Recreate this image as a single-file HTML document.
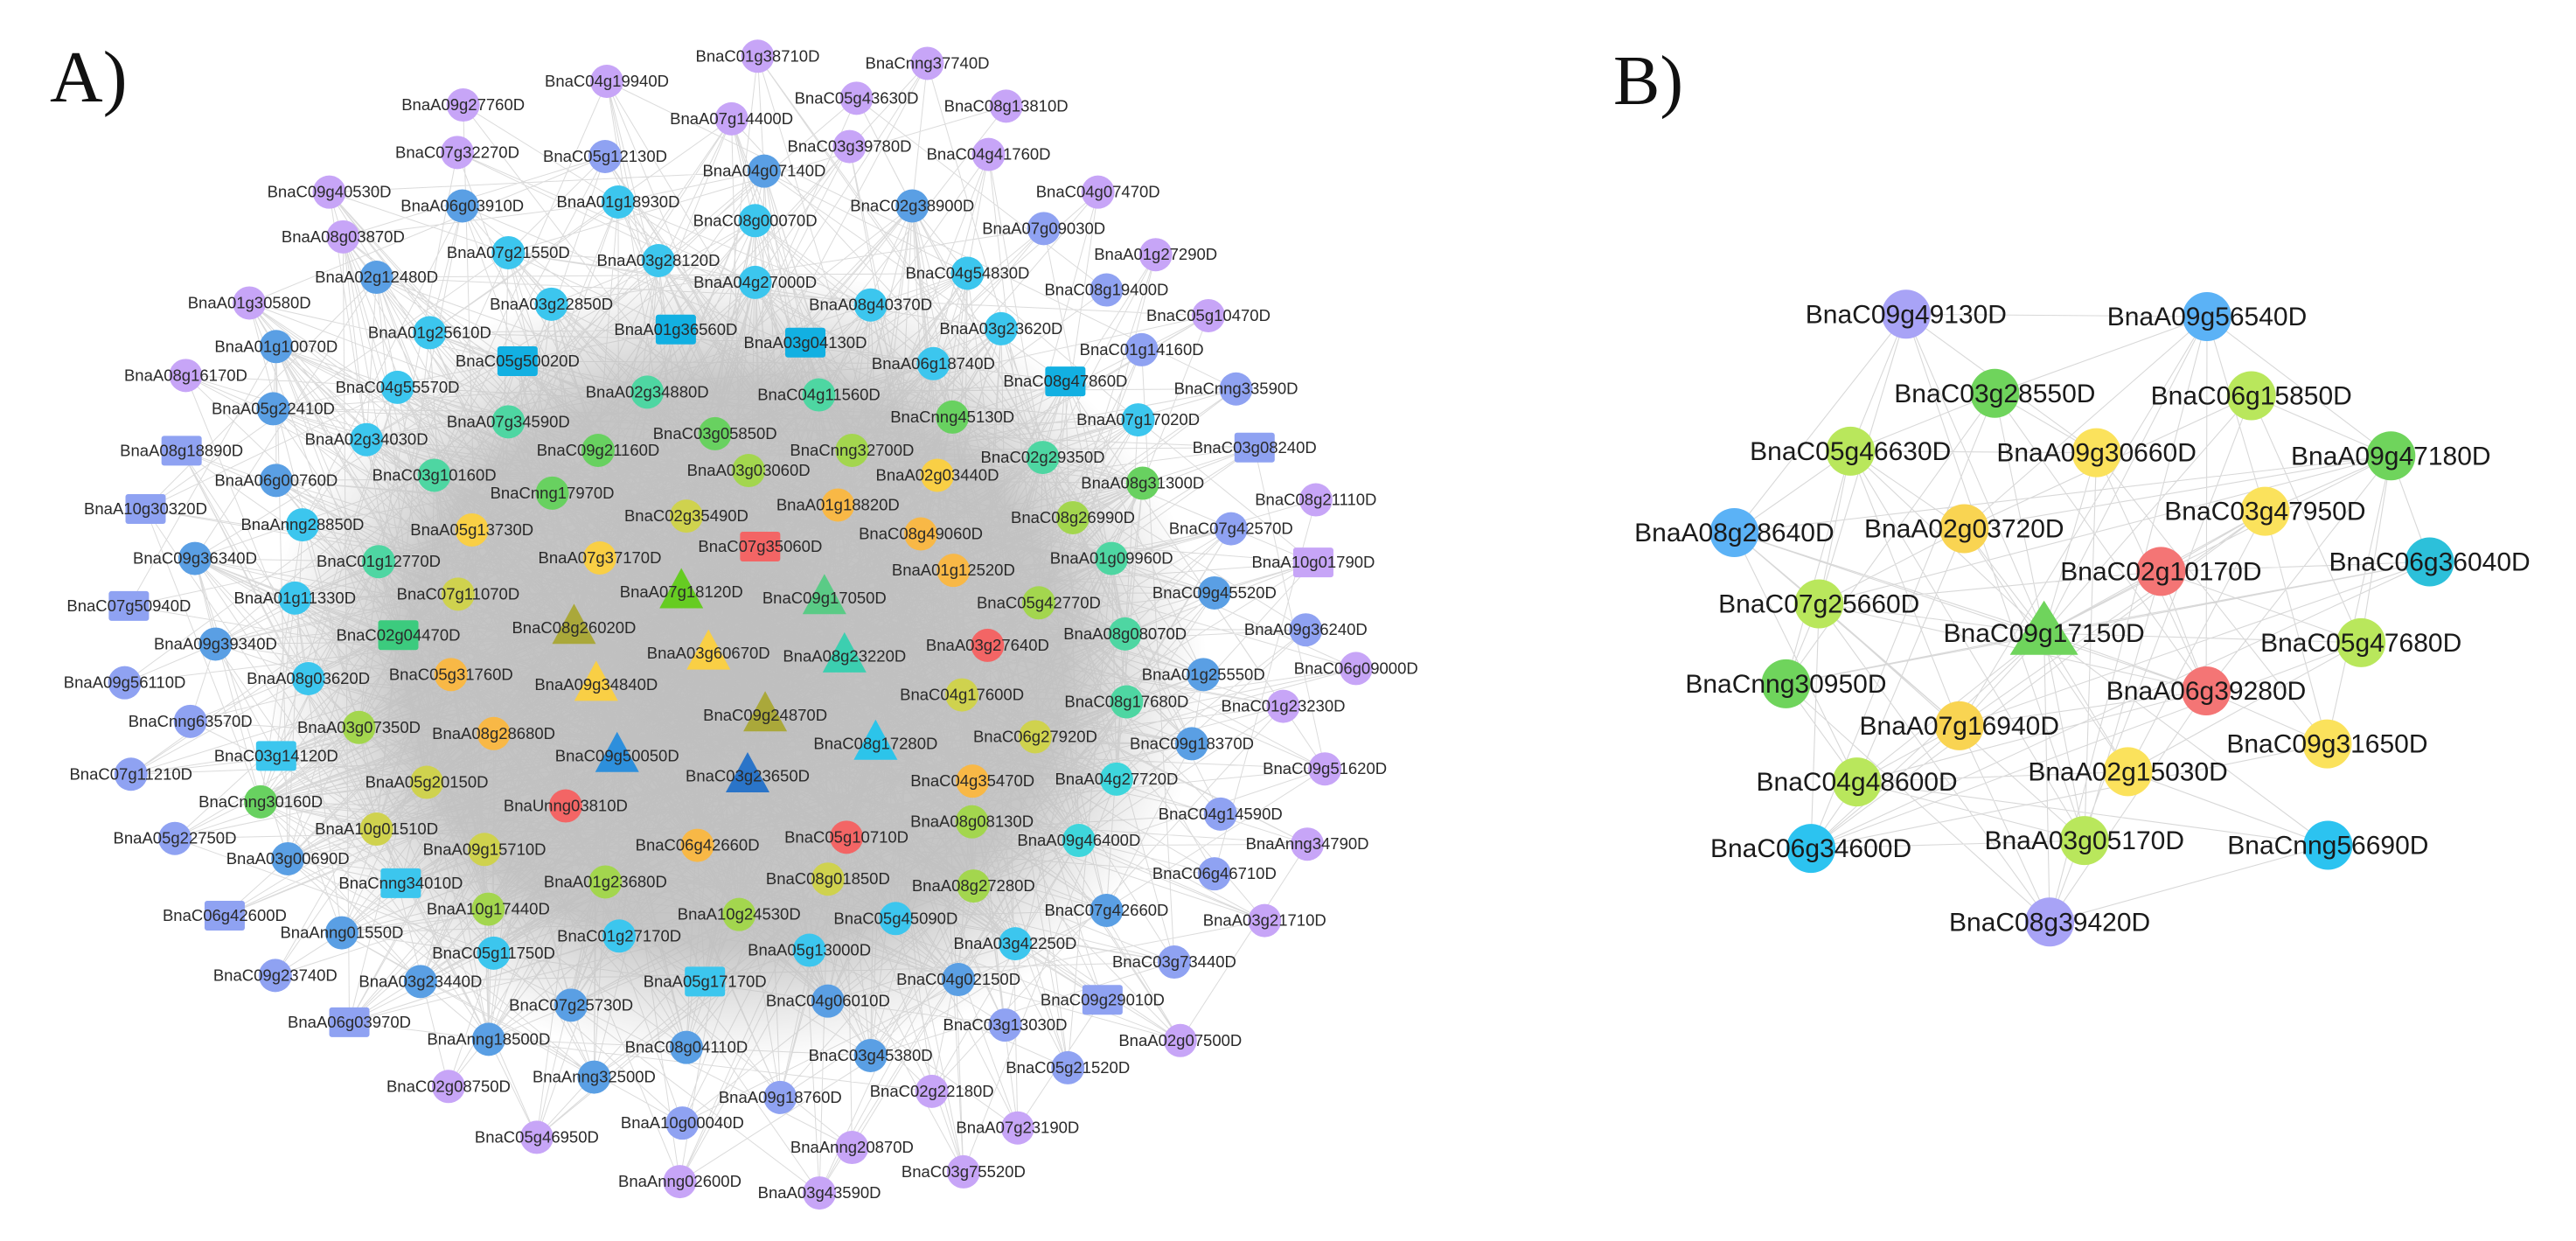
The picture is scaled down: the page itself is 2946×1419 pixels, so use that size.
<!DOCTYPE html>
<html><head><meta charset="utf-8">
<style>
html,body{margin:0;padding:0;background:#fff;}
svg{display:block;}
text{font-family:"Liberation Sans",Arial,sans-serif;}
</style></head>
<body>
<svg id="s" xmlns="http://www.w3.org/2000/svg" width="2946" height="1419" viewBox="0 0 2946 1419">
<defs>
<radialGradient id="core" cx="50%" cy="50%" r="50%">
<stop offset="0" stop-color="#c0c0c0" stop-opacity="1"/>
<stop offset="0.7" stop-color="#c4c4c4" stop-opacity="0.95"/>
<stop offset="1" stop-color="#d0d0d0" stop-opacity="0"/>
</radialGradient>
</defs>
<rect width="2946" height="1419" fill="#fff"/>
<ellipse cx="840" cy="760" rx="540" ry="460" fill="url(#core)"/>
<g id="edgesA"></g>
<g id="edgesB"></g>
<g id="nodes"></g>
<text x="57" y="116" font-size="84" style="font-family:'Liberation Serif',serif" fill="#111">A)</text>
<text x="1845" y="119" font-size="80" style="font-family:'Liberation Serif',serif" fill="#111">B)</text>
</svg>
<script>
var NS="http://www.w3.org/2000/svg";
var col={P:'#c7a5f7',W:'#8fa2f2',B:'#5a9fe4',C:'#3cc6ee',Cd:'#12b0e2',T:'#4ed6a2',TG:'#3ccb7e',G:'#68d160',GB:'#66cc22',GT:'#5acb86',YG:'#a3d64e',OY:'#cfd24e',Y:'#f9cf45',O:'#f8b846',R:'#f36565',Ol:'#aaa83a',Bd:'#2d8fdc',Bd2:'#2a74c8',Ct:'#2cc4ea',Ct2:'#3ed6dc',TT:'#3ccfb0'};
var A=[];
function add(arr,fx,fy){arr.forEach(function(n){A.push({l:n[0],x:fx(n[1]),y:fy(n[2]),c:n[3],s:n[4]||'c'});});}
add([['BnaA09g27760D',1107,265,'P'],['BnaC07g32270D',1093,385,'P'],['BnaC09g40530D',787,485,'P'],['BnaA06g03910D',1105,520,'B'],['BnaA08g03870D',820,598,'P'],['BnaA07g21550D',1215,638,'C'],['BnaA02g12480D',900,700,'B'],['BnaA01g30580D',596,765,'P'],['BnaA03g22850D',1318,768,'C'],['BnaA01g25610D',1027,840,'C'],['BnaA01g10070D',660,875,'B'],['BnaC05g50020D',1237,912,'Cd','s'],['BnaA08g16170D',444,948,'P'],['BnaC04g55570D',950,978,'C'],['BnaA05g22410D',653,1032,'B'],['BnaA07g34590D',1215,1065,'T'],['BnaA02g34030D',876,1110,'C'],['BnaA08g18890D',434,1138,'W','s'],['BnaA06g00760D',660,1213,'B'],['BnaC03g10160D',1038,1200,'T'],['BnaCnng17970D',1320,1245,'G'],['BnaA10g30320D',348,1285,'W','s'],['BnaAnng28850D',723,1325,'C'],['BnaA05g13730D',1128,1338,'Y'],['BnaC09g36340D',466,1410,'B'],['BnaC01g12770D',905,1418,'T'],['BnaC07g11070D',1095,1500,'OY'],['BnaA01g11330D',705,1510,'C'],['BnaC07g50940D',308,1530,'W','s']],function(x){return x/2.09},function(y){return y/2.208});
add([['BnaC04g19940D',694,93,'P'],['BnaC05g12130D',692,179,'W'],['BnaA01g18930D',707,231,'C'],['BnaA03g28120D',753,298,'C'],['BnaC09g21160D',684,515,'G'],['BnaA07g37170D',686,638,'Y']],function(x){return x},function(y){return y});
add([['BnaC01g38710D',290,142,'P'],['BnaCnng37740D',628,160,'P'],['BnaC05g43630D',487,248,'P'],['BnaC08g13810D',785,268,'P'],['BnaA07g14400D',238,300,'P'],['BnaC03g39780D',473,370,'P'],['BnaC04g41760D',750,390,'P'],['BnaA04g07140D',303,432,'B'],['BnaC04g07470D',968,485,'P'],['BnaC02g38900D',598,520,'B'],['BnaC08g00070D',285,557,'C'],['BnaA07g09030D',860,577,'W'],['BnaA01g27290D',1083,643,'P'],['BnaC04g54830D',708,690,'C'],['BnaA04g27000D',285,713,'C'],['BnaC08g19400D',985,732,'W'],['BnaA08g40370D',515,770,'C'],['BnaC05g10470D',1188,797,'P'],['BnaA01g36560D',127,832,'Cd','s'],['BnaA03g23620D',775,830,'C'],['BnaA03g04130D',385,865,'Cd','s'],['BnaC01g14160D',1055,883,'W'],['BnaA06g18740D',640,918,'C'],['BnaA02g34880D',70,990,'T'],['BnaC04g11560D',412,997,'T'],['BnaC08g47860D',903,963,'Cd','s'],['BnaCnng33590D',1243,982,'W'],['BnaCnng45130D',678,1053,'G'],['BnaA07g17020D',1048,1060,'C'],['BnaC03g05850D',205,1095,'G'],['BnaCnng32700D',478,1137,'YG'],['BnaC03g08240D',1280,1130,'W','s'],['BnaC02g29350D',858,1155,'T'],['BnaA03g03060D',272,1188,'YG'],['BnaA02g03440D',648,1200,'Y'],['BnaA08g31300D',1057,1220,'G'],['BnaC02g35490D',148,1303,'OY'],['BnaA01g18820D',450,1275,'O'],['BnaC08g21110D',1402,1262,'P'],['BnaC08g26990D',918,1307,'YG'],['BnaC07g42570D',1233,1335,'W'],['BnaC08g49060D',615,1348,'O'],['BnaC07g35060D',295,1380,'R','s'],['BnaA01g09960D',995,1410,'T'],['BnaA10g01790D',1397,1420,'P','s'],['BnaA01g12520D',680,1440,'O'],['BnaA07g18120D',138,1495,'GB','t'],['BnaC09g17050D',423,1510,'GT','t'],['BnaC05g42770D',850,1522,'YG'],['BnaC09g45520D',1200,1497,'B']],function(x){return 700+x/1.742},function(y){return y/2.208});
add([['BnaC02g04470D',952,78,'TG','s'],['BnaA09g39340D',515,100,'B'],['BnaA09g56110D',298,195,'W'],['BnaA08g03620D',737,185,'C'],['BnaC05g31760D',1078,175,'O'],['BnaA09g34840D',1425,200,'Y','t'],['BnaCnng63570D',455,290,'W'],['BnaA03g07350D',858,305,'YG'],['BnaA08g28680D',1180,320,'O'],['BnaC03g14120D',660,375,'C','s'],['BnaC09g50050D',1475,375,'Bd','t'],['BnaC07g11210D',313,420,'W'],['BnaA05g20150D',1020,440,'OY'],['BnaCnng30160D',623,488,'G'],['BnaUnng03810D',1352,498,'R'],['BnaA05g22750D',418,578,'W'],['BnaA10g01510D',900,555,'OY'],['BnaA03g00690D',688,628,'B'],['BnaA09g15710D',1158,605,'OY'],['BnaCnng34010D',958,688,'C','s'],['BnaA01g23680D',1447,685,'YG'],['BnaC06g42600D',537,768,'W','s'],['BnaA10g17440D',1167,752,'YG'],['BnaAnng01550D',817,810,'B'],['BnaC01g27170D',1480,818,'C'],['BnaC05g11750D',1180,860,'C'],['BnaC09g23740D',658,915,'W'],['BnaA03g23440D',1005,930,'B'],['BnaC07g25730D',1365,988,'B'],['BnaA06g03970D',835,1030,'W','s'],['BnaAnng18500D',1168,1072,'B'],['BnaC02g08750D',1072,1188,'P'],['BnaAnng32500D',1420,1165,'B'],['BnaC05g46950D',1283,1313,'P'],['BnaC08g26020D',1372,60,'Ol','t']],function(x){return x/2.09},function(y){return 690+y/2.151});
add([['BnaA03g60670D',192,123,'Y','t'],['BnaA08g23220D',463,130,'TT','t'],['BnaA03g27640D',748,103,'R'],['BnaA08g08070D',1022,75,'T'],['BnaA09g36240D',1382,65,'W'],['BnaA01g25550D',1178,175,'B'],['BnaC06g09000D',1482,160,'P'],['BnaC04g17600D',697,225,'OY'],['BnaC08g17680D',1025,242,'T'],['BnaC01g23230D',1337,253,'P'],['BnaC09g24870D',305,275,'Ol','t'],['BnaC08g17280D',525,345,'Ct','t'],['BnaC06g27920D',843,328,'OY'],['BnaC09g18370D',1155,345,'B'],['BnaC03g23650D',270,425,'Bd2','t'],['BnaC04g35470D',718,437,'O'],['BnaA04g27720D',1005,432,'Ct2'],['BnaC09g51620D',1420,407,'P'],['BnaC04g14590D',1212,518,'W'],['BnaA08g08130D',717,537,'YG'],['BnaC06g42660D',170,595,'O'],['BnaC05g10710D',467,575,'R'],['BnaA09g46400D',930,583,'Ct2'],['BnaAnng34790D',1385,592,'P'],['BnaC06g46710D',1200,665,'W'],['BnaC08g01850D',430,678,'OY'],['BnaA08g27280D',720,695,'YG'],['BnaA10g24530D',253,765,'YG'],['BnaC05g45090D',565,775,'C'],['BnaC07g42660D',985,755,'B'],['BnaA03g21710D',1300,780,'P'],['BnaA05g13000D',393,853,'C'],['BnaA03g42250D',803,837,'C'],['BnaC03g73440D',1120,882,'W'],['BnaA05g17170D',185,930,'C','s'],['BnaC04g02150D',690,925,'B'],['BnaC04g06010D',430,978,'B'],['BnaC09g29010D',977,975,'W','s'],['BnaC03g13030D',783,1037,'W'],['BnaA02g07500D',1132,1075,'P'],['BnaC08g04110D',148,1092,'B'],['BnaC03g45380D',515,1112,'B'],['BnaC05g21520D',908,1142,'W'],['BnaA09g18760D',335,1215,'W'],['BnaC02g22180D',637,1200,'P'],['BnaA10g00040D',140,1278,'W'],['BnaAnng20870D',478,1338,'P'],['BnaA07g23190D',808,1290,'P'],['BnaAnng02600D',135,1422,'P'],['BnaA03g43590D',413,1450,'P'],['BnaC03g75520D',700,1398,'P']],function(x){return 700+x/1.742},function(y){return 690+y/2.151});

var Bc={L:'#a8a3f6',Bl:'#5bb2f6',G:'#6fd45c',YG:'#b9e75c',Y:'#fbe25c',YO:'#f9d452',R:'#f47575',C:'#2cc3f0',CT:'#2cc0da'};
var Bn=[['BnaC09g49130D',737,397,'L'],['BnaA09g56540D',1110,400,'Bl'],['BnaC03g28550D',847,497,'G'],['BnaC06g15850D',1165,500,'YG'],['BnaC05g46630D',668,570,'YG'],['BnaA09g30660D',973,572,'Y'],['BnaA09g47180D',1338,576,'G'],['BnaC03g47950D',1182,646,'Y'],['BnaA08g28640D',524,673,'Bl'],['BnaA02g03720D',809,668,'YO'],['BnaC02g10170D',1053,722,'R'],['BnaC06g36040D',1386,710,'CT'],['BnaC07g25660D',629,763,'YG'],['BnaC09g17150D',908,800,'G','t'],['BnaC05g47680D',1301,812,'YG'],['BnaCnng30950D',588,864,'G'],['BnaA06g39280D',1109,873,'R'],['BnaA07g16940D',803,917,'YO'],['BnaC09g31650D',1259,940,'Y'],['BnaA02g15030D',1012,975,'Y'],['BnaC04g48600D',676,988,'YG'],['BnaC06g34600D',619,1072,'C'],['BnaA03g05170D',958,1062,'YG'],['BnaCnng56690D',1260,1068,'C'],['BnaC08g39420D',915,1165,'L']];
var B=Bn.map(function(n){return {l:n[0],x:1500+n[1]/1.084,y:n[2]/1.105,c:Bc[n[3]],s:n[4]||'c'};});

var seed=12345;function rnd(){seed=(seed*1103515245+12345)%2147483648;return seed/2147483648;}
function w(c){if(c=='P'||c=='W')return 0.12;if(c=='B'||c=='C'||c=='Cd')return 0.3;return 0.6;}
var eA=[];
for(var i=0;i<A.length;i++)for(var j=i+1;j<A.length;j++){
 var a=A[i],b=A[j];var d=Math.hypot(a.x-b.x,a.y-b.y);
 var p=w(a.c)*w(b.c)*(d<300?1.6:d<600?0.9:0.5);
 if(a.s=='t'||b.s=='t')p*=2;
 if(rnd()<p)eA.push('M'+a.x.toFixed(1)+' '+a.y.toFixed(1)+'L'+b.x.toFixed(1)+' '+b.y.toFixed(1));
}
var pa=document.createElementNS(NS,'path');pa.setAttribute('d',eA.join(''));pa.setAttribute('stroke','#bdbdbd');pa.setAttribute('stroke-width','1');pa.setAttribute('stroke-opacity','0.55');pa.setAttribute('fill','none');
document.getElementById('edgesA').appendChild(pa);
var eB=[];
for(var i=0;i<B.length;i++)for(var j=i+1;j<B.length;j++){
 var a=B[i],b=B[j];var d=Math.hypot(a.x-b.x,a.y-b.y);
 var p=d<350?0.45:0.2; if(a.s=='t'||b.s=='t')p=0.9;
 if(rnd()<p)eB.push('M'+a.x.toFixed(1)+' '+a.y.toFixed(1)+'L'+b.x.toFixed(1)+' '+b.y.toFixed(1));
}
var pb=document.createElementNS(NS,'path');pb.setAttribute('d',eB.join(''));pb.setAttribute('stroke','#d8d8d8');pb.setAttribute('stroke-width','1.1');pb.setAttribute('fill','none');
document.getElementById('edgesB').appendChild(pb);

var G=document.getElementById('nodes');
function el(t,at){var e=document.createElementNS(NS,t);for(var k in at)e.setAttribute(k,at[k]);G.appendChild(e);return e;}
function draw(n,fill,r,sq,tri){
 if(n.s=='s')el('rect',{x:n.x-sq[0]/2,y:n.y-sq[1]/2,width:sq[0],height:sq[1],rx:3,fill:fill});
 else if(n.s=='t')el('polygon',{points:(n.x)+','+(n.y-tri[1]*0.6)+' '+(n.x-tri[0]/2)+','+(n.y+tri[1]*0.4)+' '+(n.x+tri[0]/2)+','+(n.y+tri[1]*0.4),fill:fill});
 else el('circle',{cx:n.x,cy:n.y,r:r,fill:fill});
}
A.forEach(function(n){draw(n,col[n.c],19,[46,34],[50,46]);});
B.forEach(function(n){draw(n,n.c,28,[46,34],[78,62]);});
A.forEach(function(n){var t=el('text',{x:n.x,y:n.y+6,'font-size':18.5,'text-anchor':'middle',fill:'#2a2a2a'});t.textContent=n.l;});
B.forEach(function(n){var t=el('text',{x:n.x,y:n.y+10,'font-size':30,'text-anchor':'middle',fill:'#1a1a1a'});t.textContent=n.l;});
</script>
</body></html>
